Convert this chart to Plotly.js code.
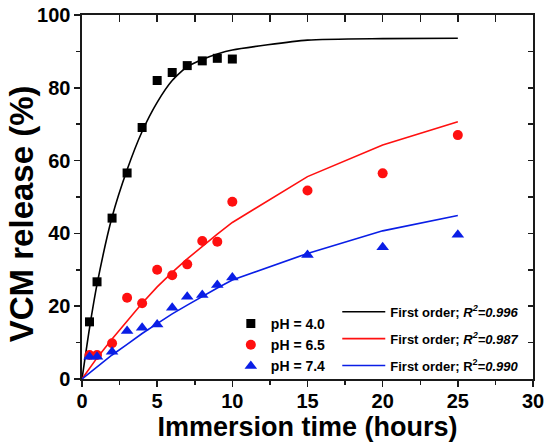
<!DOCTYPE html>
<html>
<head>
<meta charset="utf-8">
<script src="https://cdn.plot.ly/plotly-3.0.1.min.js"></script>
<style>html,body{margin:0;padding:0;background:#fff;}#chart{width:550px;height:445px;}</style>
</head>
<body>
<div id="chart"></div>
<script>
// Measured release data (hours, %)
const timeData = [0.5, 1, 2, 3, 4, 5, 6, 7, 8, 9, 10, 15, 20, 25];
const ph40 = [15.7, 26.7, 44.2, 56.6, 69.1, 82.0, 84.2, 86.1, 87.4, 88.1, 87.9, null, null, null];
const ph65 = [6.6, 6.6, 9.8, 22.3, 20.8, 30.0, 28.5, 31.5, 37.9, 37.7, 48.7, 51.8, 56.5, 67.0];
const ph74 = [6.1, 6.1, 7.5, 13.2, 14.1, 15.0, 19.6, 22.6, 23.1, 25.8, 27.9, 34.1, 36.2, 39.6];

// First-order fit curves
const fitTime = [0, 0.5, 1, 2, 3, 4, 5, 6, 7, 8, 9, 10, 15, 20, 25];
const fit40 = [0, 14.0, 26.0, 44.5, 57.5, 68.0, 76.0, 82.0, 85.8, 87.8, 89.3, 90.4, 93.1, 93.5, 93.6];
const fit65 = [0, 3.0, 5.8, 11.0, 16.0, 20.8, 25.3, 29.3, 33.0, 36.5, 39.8, 43.0, 55.6, 64.3, 70.7];
const fit74 = [0, 1.6, 3.2, 6.6, 9.5, 12.5, 15.2, 17.9, 20.3, 22.7, 25.0, 27.2, 34.5, 40.7, 44.9];

const markerNames = ['pH = 4.0', 'pH = 6.5', 'pH = 7.4'];
const fitNames = [
  'First order; <i>R<sup>2</sup>=0.996</i>',
  'First order; <i>R<sup>2</sup>=0.987</i>',
  'First order; R<sup>2</sup>=<i>0.990</i>'
];
const xTitle = 'Immersion time (hours)';
const yTitle = 'VCM release (%)';

const FONT = 'Liberation Sans, Arial, sans-serif';
const BLACK = '#000000', RED = '#ff1010', BLUE = '#0a1ee6';

const traces = [
  {x: fitTime, y: fit40, type: 'scatter', mode: 'lines', name: fitNames[0], legend: 'legend2', legendgroup: 'f1',
   line: {color: BLACK, width: 1.6, shape: 'spline', smoothing: 0.6}},
  {x: fitTime, y: fit65, type: 'scatter', mode: 'lines', name: fitNames[1], legend: 'legend2', legendgroup: 'f2',
   line: {color: RED, width: 1.6}},
  {x: fitTime, y: fit74, type: 'scatter', mode: 'lines', name: fitNames[2], legend: 'legend2', legendgroup: 'f3',
   line: {color: BLUE, width: 1.6}},
  {x: timeData, y: ph40, type: 'scatter', mode: 'markers', name: markerNames[0],
   marker: {symbol: 'square', size: 9, color: BLACK}},
  {x: timeData, y: ph65, type: 'scatter', mode: 'markers', name: markerNames[1],
   marker: {symbol: 'circle', size: 10, color: RED}},
  {x: timeData, y: ph74, type: 'scatter', mode: 'markers', name: markerNames[2],
   marker: {symbol: 'triangle-up', size: 11, color: BLUE}},
  {x: [], y: [], type: 'scatter', mode: 'markers', xaxis: 'x2', yaxis: 'y2', showlegend: false, hoverinfo: 'skip'}
];

const axisLine = {showline: true, linewidth: 1.6, linecolor: '#1a1a1a', zeroline: false, showgrid: false};

const layout = {
  width: 550, height: 445,
  margin: {l: 82, r: 17, t: 15, b: 66},
  paper_bgcolor: '#ffffff', plot_bgcolor: '#ffffff',
  font: {family: FONT, color: '#000'},
  showlegend: true,
  xaxis: Object.assign({}, axisLine, {
    range: [0, 30], autorange: false, dtick: 5, tick0: 0,
    ticks: 'outside', ticklen: 6, tickwidth: 1.5, tickcolor: '#1a1a1a',
    minor: {dtick: 2.5, ticks: 'outside', ticklen: 4, tickwidth: 1.5, tickcolor: '#1a1a1a'},
    tickfont: {family: FONT, size: 20, weight: 'bold', color: '#000'},
    ticklabelstandoff: -3,
    title: {text: xTitle, font: {family: FONT, size: 27, weight: 'bold', color: '#000'}, standoff: 0}
  }),
  yaxis: Object.assign({}, axisLine, {
    range: [0, 100], autorange: false, dtick: 20, tick0: 0,
    ticks: 'outside', ticklen: 6, tickwidth: 1.5, tickcolor: '#1a1a1a',
    minor: {dtick: 10, ticks: 'outside', ticklen: 4, tickwidth: 1.5, tickcolor: '#1a1a1a'},
    tickfont: {family: FONT, size: 20, weight: 'bold', color: '#000'}
  }),
  xaxis2: Object.assign({}, axisLine, {
    overlaying: 'x', side: 'top', anchor: 'y2', range: [0, 30], autorange: false,
    dtick: 2.5, tick0: 0, ticks: 'inside', ticklen: 7, tickwidth: 1.5, tickcolor: '#1a1a1a',
    showticklabels: false
  }),
  yaxis2: Object.assign({}, axisLine, {
    overlaying: 'y', side: 'right', anchor: 'x2', range: [0, 100], autorange: false,
    dtick: 10, tick0: 0, ticks: 'inside', ticklen: 5, tickwidth: 1.5, tickcolor: '#1a1a1a',
    showticklabels: false
  }),
  annotations: [{
    text: yTitle, textangle: -90, showarrow: false,
    xref: 'paper', yref: 'paper', x: -0.135, y: 0.453, xanchor: 'center', yanchor: 'middle',
    font: {family: FONT, size: 33, weight: 'bold', color: '#000'}
  }],
  legend: {
    x: 0.330, y: 0.195, xanchor: 'left', yanchor: 'top',
    bgcolor: 'rgba(0,0,0,0)', borderwidth: 0,
    font: {family: FONT, size: 14, weight: 'bold', color: '#000'},
    tracegroupgap: 0
  },
  legend2: {
    x: 0.566, y: 0.226, xanchor: 'left', yanchor: 'top',
    bgcolor: 'rgba(0,0,0,0)', borderwidth: 0,
    traceorder: 'grouped', tracegroupgap: 7, itemwidth: 43,
    font: {family: FONT, size: 13, weight: 'bold', color: '#000'}
  }
};

Plotly.newPlot('chart', traces, layout, {displayModeBar: false, staticPlot: true});
</script>
</body>
</html>
